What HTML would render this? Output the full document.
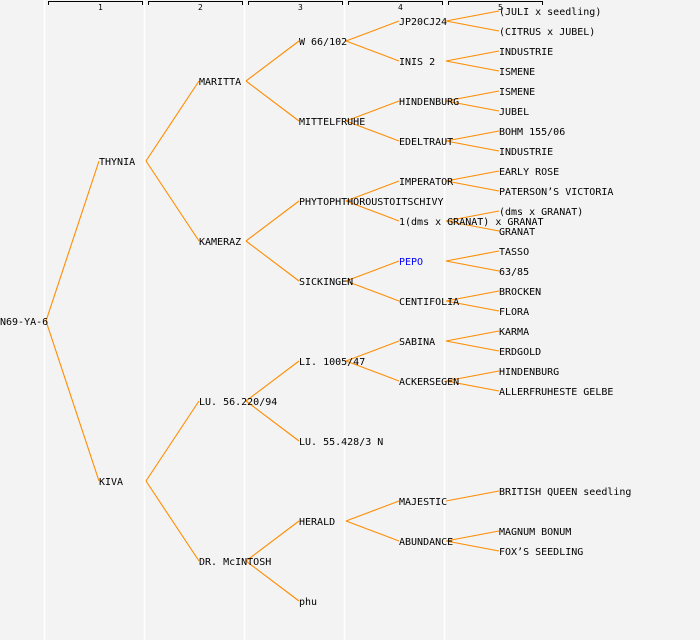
<!DOCTYPE html>
<html><head><meta charset="utf-8"><style>
html,body{margin:0;padding:0;background:#f3f3f3;}
svg{display:block;}
text{font-family:"DejaVu Sans Mono","Liberation Mono",monospace;font-size:10px;fill:#000;}
</style></head><body>
<svg width="700" height="640" xmlns="http://www.w3.org/2000/svg">
<rect width="700" height="640" fill="#f3f3f3"/>
<g stroke="#fff" stroke-width="1.5">
<line x1="44.5" y1="0" x2="44.5" y2="640"/><line x1="144.5" y1="0" x2="144.5" y2="640"/>
<line x1="244.5" y1="0" x2="244.5" y2="640"/><line x1="344.5" y1="0" x2="344.5" y2="640"/>
<line x1="444.5" y1="0" x2="444.5" y2="640"/>
</g>
<g stroke="#000" stroke-width="1" fill="none">
<path d="M48.5 5V1.5H142.5V5"/><path d="M148.5 5V1.5H242.5V5"/><path d="M248.5 5V1.5H342.5V5"/>
<path d="M348.5 5V1.5H442.5V5"/><path d="M448.5 5V1.5H542.5V5"/>
</g>
<g><text x="98" y="10" style="font-size:8px">1</text><text x="198" y="10" style="font-size:8px">2</text><text x="298" y="10" style="font-size:8px">3</text><text x="398" y="10" style="font-size:8px">4</text><text x="498" y="10" style="font-size:8px">5</text></g>
<g stroke="#ff8c00" stroke-width="1.1" fill="none">
<line x1="46" y1="321" x2="99" y2="161"/><line x1="46" y1="321" x2="99" y2="481"/>
<line x1="146" y1="161" x2="199" y2="81"/><line x1="146" y1="161" x2="199" y2="241"/>
<line x1="146" y1="481" x2="199" y2="401"/><line x1="146" y1="481" x2="199" y2="561"/>
<line x1="246" y1="81" x2="299" y2="41"/><line x1="246" y1="81" x2="299" y2="121"/>
<line x1="246" y1="241" x2="299" y2="201"/><line x1="246" y1="241" x2="299" y2="281"/>
<line x1="246" y1="401" x2="299" y2="361"/><line x1="246" y1="401" x2="299" y2="441"/>
<line x1="246" y1="561" x2="299" y2="521"/><line x1="246" y1="561" x2="299" y2="601"/>
<line x1="346" y1="41" x2="399" y2="21"/><line x1="346" y1="41" x2="399" y2="61"/>
<line x1="346" y1="121" x2="399" y2="101"/><line x1="346" y1="121" x2="399" y2="141"/>
<line x1="346" y1="201" x2="399" y2="181"/><line x1="346" y1="201" x2="399" y2="221"/>
<line x1="346" y1="281" x2="399" y2="261"/><line x1="346" y1="281" x2="399" y2="301"/>
<line x1="346" y1="361" x2="399" y2="341"/><line x1="346" y1="361" x2="399" y2="381"/>
<line x1="346" y1="521" x2="399" y2="501"/><line x1="346" y1="521" x2="399" y2="541"/>
<line x1="446" y1="21" x2="499" y2="11"/><line x1="446" y1="21" x2="499" y2="31"/>
<line x1="446" y1="61" x2="499" y2="51"/><line x1="446" y1="61" x2="499" y2="71"/>
<line x1="446" y1="101" x2="499" y2="91"/><line x1="446" y1="101" x2="499" y2="111"/>
<line x1="446" y1="141" x2="499" y2="131"/><line x1="446" y1="141" x2="499" y2="151"/>
<line x1="446" y1="181" x2="499" y2="171"/><line x1="446" y1="181" x2="499" y2="191"/>
<line x1="446" y1="221" x2="499" y2="211"/><line x1="446" y1="221" x2="499" y2="231"/>
<line x1="446" y1="261" x2="499" y2="251"/><line x1="446" y1="261" x2="499" y2="271"/>
<line x1="446" y1="301" x2="499" y2="291"/><line x1="446" y1="301" x2="499" y2="311"/>
<line x1="446" y1="341" x2="499" y2="331"/><line x1="446" y1="341" x2="499" y2="351"/>
<line x1="446" y1="381" x2="499" y2="371"/><line x1="446" y1="381" x2="499" y2="391"/>
<line x1="446" y1="501" x2="499" y2="491"/>
<line x1="446" y1="541" x2="499" y2="531"/><line x1="446" y1="541" x2="499" y2="551"/>
</g>
<g>
<text x="0" y="325">N69-YA-6</text>
<text x="99" y="165">THYNIA</text><text x="99" y="485">KIVA</text>
<text x="199" y="85">MARITTA</text><text x="199" y="245">KAMERAZ</text>
<text x="199" y="405">LU. 56.220/94</text><text x="199" y="565">DR. McINTOSH</text>
<text x="299" y="45">W 66/102</text><text x="299" y="125">MITTELFRUHE</text>
<text x="299" y="205">PHYTOPHTHOROUSTOITSCHIVY</text><text x="299" y="285">SICKINGEN</text>
<text x="299" y="365">LI. 1005/47</text><text x="299" y="445">LU. 55.428/3 N</text>
<text x="299" y="525">HERALD</text><text x="299" y="605">phu</text>
<text x="399" y="25">JP20CJ24</text><text x="399" y="65">INIS 2</text>
<text x="399" y="105">HINDENBURG</text><text x="399" y="145">EDELTRAUT</text>
<text x="399" y="185">IMPERATOR</text><text x="399" y="225">1(dms x GRANAT) x GRANAT</text>
<text x="399" y="265" style="fill:#0000ff">PEPO</text><text x="399" y="305">CENTIFOLIA</text>
<text x="399" y="345">SABINA</text><text x="399" y="385">ACKERSEGEN</text>
<text x="399" y="505">MAJESTIC</text><text x="399" y="545">ABUNDANCE</text>
<text x="499" y="15">(JULI x seedling)</text><text x="499" y="35">(CITRUS x JUBEL)</text>
<text x="499" y="55">INDUSTRIE</text><text x="499" y="75">ISMENE</text>
<text x="499" y="95">ISMENE</text><text x="499" y="115">JUBEL</text>
<text x="499" y="135">BOHM 155/06</text><text x="499" y="155">INDUSTRIE</text>
<text x="499" y="175">EARLY ROSE</text><text x="499" y="195">PATERSON’S VICTORIA</text>
<text x="499" y="215">(dms x GRANAT)</text><text x="499" y="235">GRANAT</text>
<text x="499" y="255">TASSO</text><text x="499" y="275">63/85</text>
<text x="499" y="295">BROCKEN</text><text x="499" y="315">FLORA</text>
<text x="499" y="335">KARMA</text><text x="499" y="355">ERDGOLD</text>
<text x="499" y="375">HINDENBURG</text><text x="499" y="395">ALLERFRUHESTE GELBE</text>
<text x="499" y="495">BRITISH QUEEN seedling</text>
<text x="499" y="535">MAGNUM BONUM</text><text x="499" y="555">FOX’S SEEDLING</text>
</g>
</svg>
</body></html>
